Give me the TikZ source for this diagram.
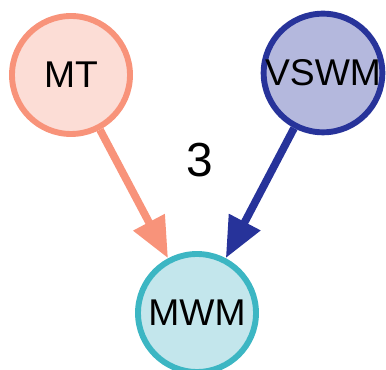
\documentclass[tikz,border=0pt]{standalone}
\usepackage{fontspec}
\setmainfont{Liberation Sans}
\usetikzlibrary{arrows.meta}
\definecolor{mtfill}{HTML}{FCDDD6}
\definecolor{mtline}{HTML}{F8937A}
\definecolor{vsfill}{HTML}{B4B8DD}
\definecolor{vsline}{HTML}{27339A}
\definecolor{mwfill}{HTML}{C3E6EC}
\definecolor{mwline}{HTML}{3CB6C3}
\begin{document}
\begin{tikzpicture}
	\useasboundingbox (0,0) rectangle (9.65,9.25);
	\tikzstyle{area}=[circle,minimum size=2.95cm,inner sep=0pt,line width=4.2pt,font=\fontsize{26.5}{30}\selectfont]
	\node[area, fill=mtfill, draw=mtline] 	(MT) at (1.775,7.375) {MT};
	\node[area, fill=vsfill, draw=vsline] 	(VSWM) at (8.075,7.425) {VSWM};
	\node[area, fill=mwfill, draw=mwline] 	(MWM) at (4.925,1.425) {MWM};
	\node[font=\fontsize{34}{38}\selectfont] (N) at (5.0,5.25) {3};
	\begin{scope}[-{Triangle[length=29pt,width=24pt]}, line width=5.5pt]
		\draw[mtline]	(MT) -- (MWM);
		\draw[vsline]	(VSWM) -- (MWM);
	\end{scope}
\end{tikzpicture}
\end{document}
